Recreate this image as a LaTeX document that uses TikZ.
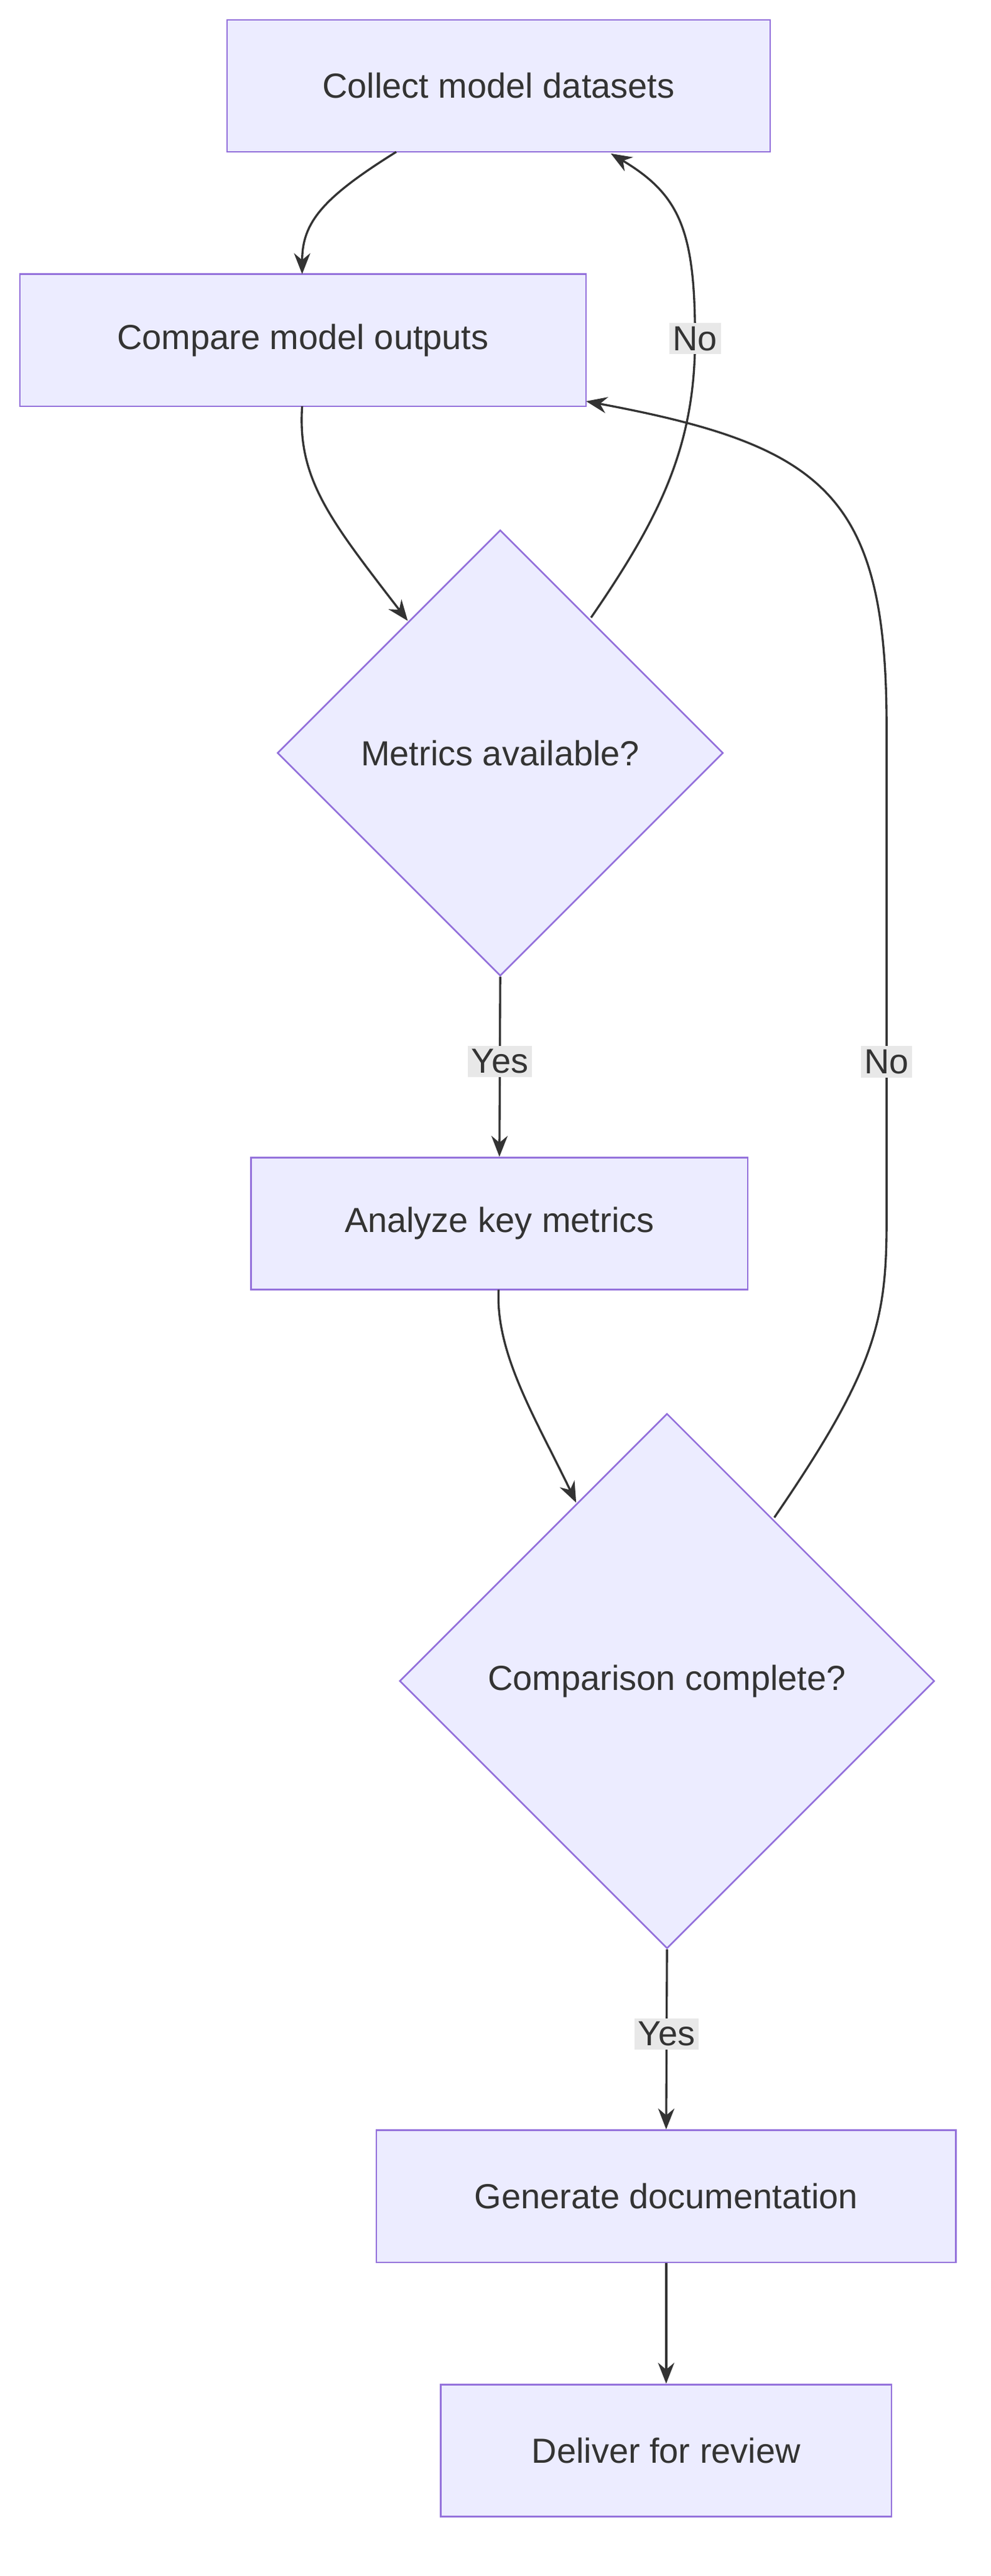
\documentclass[tikz,border=0pt]{standalone}
\usepackage{fontspec}
\setmainfont{Liberation Sans}
\usetikzlibrary{shapes.geometric,arrows.meta}
\definecolor{nfill}{HTML}{ECECFF}
\definecolor{nline}{HTML}{9370DB}
\definecolor{ink}{HTML}{333333}
\definecolor{lbl}{HTML}{E8E8E8}
\begin{document}
\begin{tikzpicture}[x=0.05cm,y=-0.05cm,
  box/.style={draw=nline,fill=nfill,line width=1.4pt,text=ink,font=\fontsize{30}{36}\selectfont,minimum height=4cm,inner sep=0},
  dia/.style={diamond,draw=nline,fill=nfill,line width=1.4pt,text=ink,font=\fontsize{30}{36}\selectfont,inner sep=0,aspect=1},
  edge/.style={draw=ink,line width=1.8pt,-{Stealth[length=18pt,width=14pt]}},
  el/.style={fill=lbl,text=ink,font=\fontsize{30}{36}\selectfont,inner sep=3pt}]
\useasboundingbox (0,0) rectangle (600,1560);
\node[box,minimum width=16.45cm] (collect) at (302,52) {Collect model datasets};
\node[box,minimum width=17.15cm] (compare) at (183.5,206) {Compare model outputs};
\node[dia,minimum width=13.5cm,minimum height=13.5cm] (metrics) at (303,456) {Metrics available?};
\node[box,minimum width=15.05cm] (analyze) at (302.5,741) {Analyze key metrics};
\node[dia,minimum width=16.2cm,minimum height=16.2cm] (comp) at (404,1018) {Comparison complete?};
\node[box,minimum width=17.55cm] (gen) at (403.5,1330) {Generate documentation};
\node[box,minimum width=13.65cm] (deliver) at (403.5,1484) {Deliver for review};
\coordinate (c1) at (240,92);
\coordinate (c2) at (183,166);
\coordinate (m1) at (183,246);
\coordinate (m2) at (247,376);
\coordinate (n1) at (358,374);
\coordinate (n2) at (370,93);
\coordinate (a1) at (302,781);
\coordinate (a2) at (349,910);
\coordinate (k1) at (469,919);
\coordinate (k2) at (355,243);
\draw[edge] (c1) .. controls (195,120) and (183,135) .. (c2);
\draw[edge] (m1) .. controls (180,290) and (200,315) .. (m2);
\draw[edge] (n1) .. controls (400,313) and (421,270) .. (421,205) .. controls (421,140) and (412,118) .. (n2);
\node[el] at (421,205) {No};
\draw[edge] (metrics.south) -- node[el,pos=0.47]{Yes} (analyze.north);
\draw[edge] (a1) .. controls (300,820) and (325,860) .. (a2);
\draw[edge] (k1) .. controls (530,830) and (537,800) .. (537,740) -- (537,440) .. controls (537,300) and (500,270) .. (k2);
\node[el] at (537,643) {No};
\draw[edge] (comp.south) -- node[el,pos=0.47]{Yes} (gen.north);
\draw[edge] (gen.south) -- (deliver.north);
\end{tikzpicture}
\end{document}
